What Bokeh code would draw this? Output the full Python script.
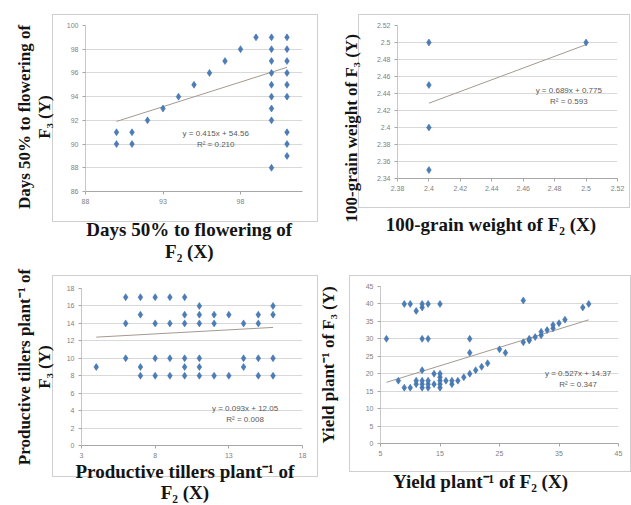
from bokeh.plotting import figure
from bokeh.layouts import column, row
from bokeh.models import FixedTicker, Label, Range1d, Title
from bokeh.embed import file_html
from bokeh.resources import INLINE

# ---------------- data ----------------
# Panel 1: Days 50% to flowering
dff_f2 = [90, 90, 91, 91, 92, 93, 94, 95, 96, 97, 98, 99,
          100, 100, 100, 100, 100, 100, 100, 100, 100,
          101, 101, 101, 101, 101, 101, 101, 101, 101]
dff_f3 = [91, 90, 91, 90, 92, 93, 94, 95, 96, 97, 98, 99,
          99, 98, 97, 96, 95, 94, 93, 92, 88,
          99, 98, 97, 96, 95, 94, 91, 90, 89]
dff_fit = (0.415, 54.56)
dff_eq = ["y = 0.415x + 54.56", "R² = 0.210"]
dff_xticks = [88, 93, 98]
dff_yticks = [86, 88, 90, 92, 94, 96, 98, 100]

# Panel 2: 100-grain weight
gw_f2 = [2.40, 2.40, 2.40, 2.40, 2.50]
gw_f3 = [2.50, 2.45, 2.40, 2.35, 2.50]
gw_fit = (0.689, 0.775)
gw_eq = ["y = 0.689x + 0.775", "R² = 0.593"]
gw_xticks = [2.38, 2.40, 2.42, 2.44, 2.46, 2.48, 2.50, 2.52]
gw_xlabels = ["2.38", "2.4", "2.42", "2.44", "2.46", "2.48", "2.5", "2.52"]
gw_yticks = [2.34, 2.36, 2.38, 2.40, 2.42, 2.44, 2.46, 2.48, 2.50, 2.52]
gw_ylabels = ["2.34", "2.36", "2.38", "2.4", "2.42", "2.44", "2.46", "2.48", "2.5", "2.52"]

# Panel 3: Productive tillers per plant
pt_f2 = [4,
         6, 6, 6,
         7, 7, 7, 7,
         8, 8, 8, 8,
         9, 9, 9, 9,
         10, 10, 10, 10, 10, 10,
         11, 11, 11, 11, 11, 11,
         12, 12, 12,
         13, 13,
         14, 14, 14,
         15, 15, 15, 15,
         16, 16, 16, 16]
pt_f3 = [9,
         17, 14, 10,
         17, 15, 9, 8,
         17, 14, 10, 8,
         17, 14, 10, 8,
         17, 15, 14, 10, 9, 8,
         16, 15, 14, 10, 9, 8,
         15, 14, 8,
         15, 8,
         14, 10, 9,
         15, 14, 10, 8,
         16, 15, 10, 8]
pt_fit = (0.093, 12.05)
pt_eq = ["y = 0.093x + 12.05", "R² = 0.008"]
pt_xticks = [3, 8, 13, 18]
pt_yticks = [0, 2, 4, 6, 8, 10, 12, 14, 16, 18]

# Panel 4: Yield per plant
yp_f2 = [6, 8, 9, 10, 9, 10, 11, 12, 12, 13, 15, 12, 13, 12,
         11, 11, 12, 12, 12, 13, 13, 13, 14, 14, 15, 15, 15, 15, 15,
         16, 17, 17, 18, 19, 20, 21, 22, 23, 20, 20, 25, 26, 29,
         29, 30, 30, 31, 32, 32, 33, 34, 34, 35, 36, 39, 40]
yp_f3 = [30, 18, 16, 16, 40, 40, 38, 39, 40, 40, 40, 30, 30, 21,
         17, 18, 16, 17, 18, 16, 17, 18, 17, 20, 16, 17, 18, 19, 20,
         18, 17, 18, 18, 19, 20, 21, 22, 23, 30, 26, 27, 26, 41,
         29, 29.5, 30, 30.5, 31, 32, 32.5, 33, 34, 34.5, 35.5, 39, 40]
yp_fit = (0.527, 14.37)
yp_eq = ["y = 0.527x + 14.37", "R² = 0.347"]
yp_xticks = [5, 15, 25, 35, 45]
yp_yticks = [0, 5, 10, 15, 20, 25, 30, 35, 40, 45]

# ---------------- styling ----------------
MARK = "#4a7ebb"
MARK_LINE = "#3a679e"
GRID = "#d9d9d9"
TICKC = "#7f7f7f"
BOXC = "#cfcfcf"
LABEL_FONT = "Liberation Serif"
TICK_FONT = "Liberation Sans"
NB = "\u00a0"


def pad(text, n):
    return "\n".join(line + NB * n for line in text.split("\n"))


def box_styles(boxes):
    imgs, sizes, poss = [], [], []
    g = f"linear-gradient({BOXC}, {BOXC})"
    for bl, br, bt, bb in boxes:
        w, h = br - bl, bb - bt
        imgs += [g] * 4
        sizes += [f"{w}px 1px", f"{w}px 1px", f"1px {h}px", f"1px {h}px"]
        poss += [f"{bl}px {bt}px", f"{bl}px {bb - 1}px", f"{bl}px {bt}px", f"{br - 1}px {bt}px"]
    return {
        "background-color": "white",
        "background-image": ", ".join(imgs),
        "background-size": ", ".join(sizes),
        "background-position": ", ".join(poss),
        "background-repeat": "no-repeat",
    }


def panel(W, H, fl, fr, ft, fb, xr, yr, xticks, yticks, xs, ys, fit, eq, eq_xy,
          xlabel, ylabel, xstand, ystand, xlab_over=None, ylab_over=None,
          ytitle_offset=None, xline_height=1.05):
    p = figure(width=W, height=H, output_backend="svg", toolbar_location=None,
               x_range=Range1d(*xr), y_range=Range1d(*yr),
               min_border_left=fl, min_border_right=W - fr,
               min_border_top=ft, min_border_bottom=H - fb)
    p.outline_line_color = None
    p.background_fill_color = "white"
    p.border_fill_color = None
    p.xgrid.grid_line_color = None
    p.ygrid.grid_line_color = GRID
    p.ygrid.grid_line_width = 1

    p.xaxis.ticker = FixedTicker(ticks=xticks)
    p.yaxis.ticker = FixedTicker(ticks=yticks)
    if xlab_over:
        p.xaxis.major_label_overrides = dict(zip(xticks, xlab_over))
    if ylab_over:
        p.yaxis.major_label_overrides = dict(zip(yticks, ylab_over))
    for ax in (p.xaxis, p.yaxis):
        ax.axis_line_color = "#a6a6a6"
        ax.major_tick_line_color = "#a6a6a6"
        ax.major_tick_out = 3
        ax.major_tick_in = 0
        ax.minor_tick_line_color = None
        ax.major_label_text_font = TICK_FONT
        ax.major_label_text_font_size = "7px"
        ax.major_label_text_color = TICKC
        ax.major_label_standoff = 4
        ax.axis_label_text_font = LABEL_FONT
        ax.axis_label_text_font_style = "bold"
        ax.axis_label_text_color = "#141414"
        ax.axis_label_text_line_height = 1.05
    p.xaxis.axis_label_text_line_height = xline_height
    p.xaxis.axis_label_text_font_size = "19px"
    p.yaxis.axis_label_text_font_size = "17px"
    p.yaxis.axis_line_color = "#c8c8c8"
    p.xaxis.axis_label = xlabel
    p.xaxis.axis_label_standoff = xstand
    if ytitle_offset is None:
        p.yaxis.axis_label = ylabel
        p.yaxis.axis_label_standoff = ystand
    else:
        p.add_layout(Title(text=ylabel, align="left", offset=ytitle_offset,
                           standoff=ystand, text_font=LABEL_FONT,
                           text_font_style="bold", text_font_size="17px",
                           text_color="#141414"), "left")

    # trend line
    x0, x1 = min(xs), max(xs)
    p.line([x0, x1], [fit[0] * x0 + fit[1], fit[0] * x1 + fit[1]],
           line_color="#a39a90", line_width=1)
    p.scatter(xs, ys, marker="diamond", size=7, fill_color=MARK,
              line_color=MARK_LINE, line_width=0.5)

    ex, ey = eq_xy
    p.add_layout(Label(x=ex, y=ey, text=eq[0], text_font=TICK_FONT,
                       text_font_size="8px", text_color="#595959",
                       text_align="center", text_baseline="bottom"))
    p.add_layout(Label(x=ex, y=ey, text=eq[1], text_font=TICK_FONT,
                       text_font_size="8px", text_color="#595959",
                       text_align="center", text_baseline="top", y_offset=-2))
    return p


p1 = panel(320, 264, 85, 302, 25, 191, (88, 102), (86, 100), dff_xticks, dff_yticks,
           dff_f2, dff_f3, dff_fit, dff_eq, (96.4, 90.5),
           pad("Days 50% to flowering of\nF₂ (X)", 2),
           pad("Days 50% to flowering of\nF₃ (Y)", 4),
           12, 10)

p2 = panel(311, 264, 77, 297, 25, 178, (2.38, 2.52), (2.34, 2.52), gw_xticks, gw_yticks,
           gw_f2, gw_f3, gw_fit, gw_eq, (2.489, 2.438),
           pad("100-grain weight of F₂ (X)", 7),
           "100-grain weight of F₃ (Y)",
           20, 26, gw_xlabels, gw_ylabels, ytitle_offset=-44)

p3 = panel(312, 241, 81, 302, 24, 181, (3, 18), (0, 18), pt_xticks, pt_yticks,
           pt_f2, pt_f3, pt_fit, pt_eq, (14.1, 3.7),
           pad("Productive tillers plant⁻¹ of\nF₂ (X)", 3),
           "Productive tillers plant⁻¹ of\nF₃ (Y)",
           0, 10, xline_height=1.0)

p4 = panel(319, 241, 68, 306, 22, 179, (5, 45), (0, 45), yp_xticks, yp_yticks,
           yp_f2, yp_f3, yp_fit, yp_eq, (38.2, 18.9),
           pad("Yield plant⁻¹ of F₂ (X)", 8),
           "Yield plant⁻¹ of F₃ (Y)",
           12, 25)

# each figure wrapped on its own so that plot frames are not aligned to each other
top = row(column(p1), column(p2),
          styles=box_styles([(52, 318, 14, 222), (358, 630, 14, 208)]))
bottom = row(column(p3), column(p4),
             styles=box_styles([(52, 318, 11, 213), (349, 631, 11, 208)]))
layout = column(top, bottom)
open("out.html", "w").write(file_html(layout, INLINE))
